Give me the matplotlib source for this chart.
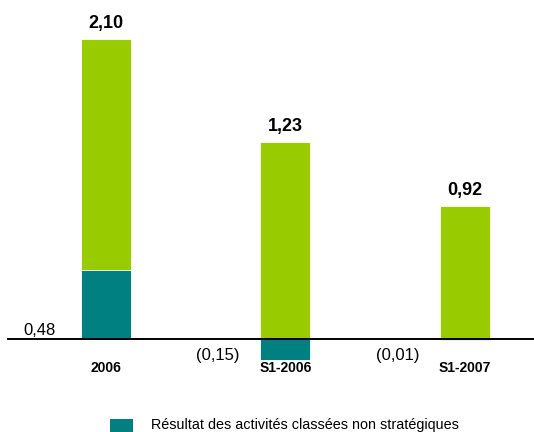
import matplotlib
matplotlib.use("Agg")
import matplotlib.pyplot as plt
from matplotlib.patches import Rectangle
from matplotlib import font_manager

names = {f.name for f in font_manager.fontManager.ttflist}
fam = ['Liberation Sans Narrow', 'Liberation Sans'] if 'Liberation Sans Narrow' in names else ['Liberation Sans']
plt.rcParams['font.family'] = fam

categories = ["2006", "S1-2006", "S1-2007"]
teal_values = [0.48, -0.15, -0.01]
green_values = [1.62, 1.38, 0.93]
total_labels = ["2,10", "1,23", "0,92"]
teal_labels = ["0,48", "(0,15)", "(0,01)"]
legend_label = "Résultat des activités classées non stratégiques"

teal = "#008080"
green = "#99CC00"

fig = plt.figure(figsize=(5.34, 4.32), dpi=100)
ax = fig.add_axes([0, 0, 1, 1])
ax.set_xlim(-0.59, 2.385)
ax.set_ylim(-0.651, 2.372)
ax.axis('off')

x = list(range(len(categories)))
w = 50 / 179.5
green_bottoms = [max(v, 0) for v in teal_values]
tb = ax.bar(x, teal_values, width=w, color=teal, edgecolor='white', linewidth=0.6, label=legend_label, zorder=2)
gb = ax.bar(x, green_values, width=w, bottom=green_bottoms, color=green, edgecolor='white', linewidth=0.6, zorder=2)

ax.axhline(0, xmin=0.015, xmax=1, color='black', lw=1.4, zorder=3)

for xi, gv, b, lab in zip(x, green_values, green_bottoms, total_labels):
    ax.annotate(lab, (xi, gv + b), xytext=(0, 5), textcoords='offset points',
                ha='center', va='bottom', fontsize=13, fontweight='bold')

for xi, tv, lab in zip(x, teal_values, teal_labels):
    if tv >= 0:
        ax.annotate(lab, (xi, 0), xytext=(-36, 1), textcoords='offset points',
                    ha='right', va='bottom', fontsize=12)
    else:
        ax.annotate(lab, (xi, 0), xytext=(-33, -12), textcoords='offset points',
                    ha='right', va='center', fontsize=12)

for xi, c in zip(x, categories):
    ax.annotate(c, (xi, 0), xytext=(0, -21), textcoords='offset points',
                ha='center', va='center', fontsize=10, fontweight='bold')

fig.patches.append(Rectangle((110 / 534, 0), 23 / 534, 13 / 432, transform=fig.transFigure,
                             facecolor=teal, edgecolor='none'))
fig.text(151 / 534, 1 - 425 / 432, legend_label, fontsize=10.4, va='center', ha='left')

fig.savefig("out.png", dpi=100)
